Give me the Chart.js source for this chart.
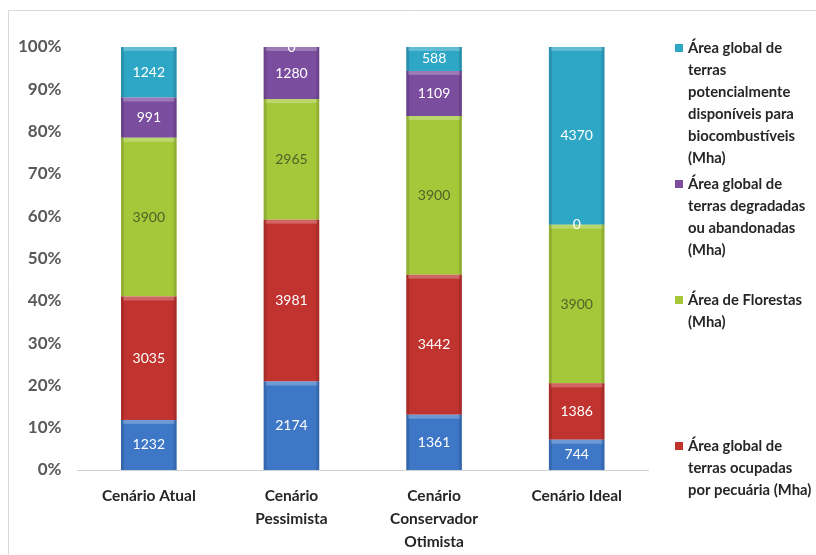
<!DOCTYPE html>
<html>
<head>
<meta charset="utf-8">
<script src="https://cdn.jsdelivr.net/npm/chart.js@4/dist/chart.umd.min.js"></script>
<style>
  html, body { margin: 0; padding: 0; background: #fff; }
  #wrap { width: 816px; height: 555px; position: relative; }
</style>
</head>
<body>
<div id="wrap"><canvas id="c" width="816" height="555"></canvas></div>
<script>
var categories = [['Cenário Atual'], ['Cenário', 'Pessimista'], ['Cenário', 'Conservador', 'Otimista'], ['Cenário Ideal']];
var pecuaria2 = [1232, 2174, 1361, 744];      // bottom blue series (legend entry cut off)
var pecuaria = [3035, 3981, 3442, 1386];
var florestas = [3900, 2965, 3900, 3900];
var degradadas = [991, 1280, 1109, 0];
var biocomb = [1242, 0, 588, 4370];
var yTicks = [0, 10, 20, 30, 40, 50, 60, 70, 80, 90, 100];

var legendLines = [
    ['Área global de', 'terras', 'potencialmente', 'disponíveis para', 'biocombustíveis', '(Mha)'],
    ['Área global de', 'terras degradadas', 'ou abandonadas', '(Mha)'],
    ['Área de Florestas', '(Mha)'],
    ['Área global de', 'terras ocupadas', 'por pecuária (Mha)']
];

var colors = {
    blue: '#3d77c6',
    red: '#c1332f',
    green: '#a5c83a',
    purple: '#7b4d9f',
    teal: '#2ea6c6'
};

var raw = [pecuaria2, pecuaria, florestas, degradadas, biocomb];
var totals = categories.map(function(c, i) {
    var s = 0;
    for (var k = 0; k < raw.length; k++) s += raw[k][i];
    return s;
});
function pct(arr) {
    return arr.map(function(v, i) { return v / totals[i] * 100; });
}

var datasets = [
    { label: 'Área global (Mha)', raw: pecuaria2, data: pct(pecuaria2), backgroundColor: colors.blue, labelColor: '#ffffff' },
    { label: legendLines[3].join(' '), raw: pecuaria, data: pct(pecuaria), backgroundColor: colors.red, labelColor: '#ffffff' },
    { label: legendLines[2].join(' '), raw: florestas, data: pct(florestas), backgroundColor: colors.green, labelColor: '#4f6228' },
    { label: legendLines[1].join(' '), raw: degradadas, data: pct(degradadas), backgroundColor: colors.purple, labelColor: '#ffffff' },
    { label: legendLines[0].join(' '), raw: biocomb, data: pct(biocomb), backgroundColor: colors.teal, labelColor: '#ffffff' }
];
datasets.forEach(function(d) {
    d.borderWidth = 0;
    d.categoryPercentage = 1;
    d.barPercentage = 0.39;
});

// soft bevel on each segment + value labels
var valueLabels = {
    id: 'valueLabels',
    afterDatasetsDraw: function(chart) {
        var ctx = chart.ctx;
        ctx.save();
        chart.data.datasets.forEach(function(ds, di) {
            var meta = chart.getDatasetMeta(di);
            meta.data.forEach(function(bar) {
                var h = bar.base - bar.y;
                if (h < 2) return;
                var l = bar.x - bar.width / 2;
                ctx.fillStyle = 'rgba(255,255,255,0.25)';
                ctx.fillRect(l + 2, bar.y, bar.width - 4, Math.min(4, h));
                ctx.fillStyle = 'rgba(0,0,0,0.12)';
                ctx.fillRect(l, bar.y, 3, h);
                ctx.fillRect(l + bar.width - 3, bar.y, 3, h);
            });
        });
        ctx.font = '14px Lato, "Open Sans", sans-serif';
        ctx.textAlign = 'center';
        ctx.textBaseline = 'middle';
        chart.data.datasets.forEach(function(ds, di) {
            var meta = chart.getDatasetMeta(di);
            meta.data.forEach(function(bar, i) {
                var y = (bar.y + bar.base) / 2;
                ctx.fillStyle = ds.labelColor;
                ctx.fillText(String(ds.raw[i]), bar.x, y);
            });
        });
        ctx.restore();
    }
};

var sideLegend = {
    id: 'sideLegend',
    afterDraw: function(chart) {
        var ctx = chart.ctx;
        var starts = [48, 184, 300, 446];
        var swatch = [colors.teal, colors.purple, colors.green, colors.red];
        ctx.save();
        ctx.font = 'bold 14.8px Lato, "Open Sans", sans-serif';
        ctx.textBaseline = 'middle';
        ctx.textAlign = 'left';
        for (var i = 0; i < legendLines.length; i++) {
            ctx.fillStyle = swatch[i];
            ctx.fillRect(675, starts[i] - 4, 8, 8);
            ctx.fillStyle = '#262626';
            for (var j = 0; j < legendLines[i].length; j++) {
                ctx.fillText(legendLines[i][j], 688, starts[i] + j * 22);
            }
        }
        // frame
        ctx.strokeStyle = '#d9d9d9';
        ctx.lineWidth = 1;
        ctx.beginPath();
        ctx.moveTo(8.5, 555);
        ctx.lineTo(8.5, 10.5);
        ctx.lineTo(816, 10.5);
        ctx.stroke();
        ctx.restore();
    }
};

new Chart(document.getElementById('c'), {
    type: 'bar',
    data: { labels: categories, datasets: datasets },
    plugins: [valueLabels, sideLegend],
    options: {
        responsive: false,
        animation: false,
        layout: { padding: { top: 47, right: 168, left: 2, bottom: 0 } },
        plugins: {
            legend: { display: false },
            tooltip: { enabled: false }
        },
        scales: {
            x: {
                stacked: true,
                afterFit: function(axis) { axis.height = 85; },
                grid: { display: false, drawTicks: false },
                border: { display: true, color: '#d0d0d0' },
                ticks: {
                    color: '#262626',
                    font: { family: 'Lato, "Open Sans", sans-serif', size: 15.5, weight: 'bold', lineHeight: 1.5 },
                    padding: 14,
                    maxRotation: 0
                }
            },
            y: {
                stacked: true,
                min: 0,
                max: 100,
                afterBuildTicks: function(axis) {
                    axis.ticks = yTicks.map(function(v) { return { value: v }; });
                },
                grid: { display: false, drawTicks: false },
                border: { display: false },
                ticks: {
                    color: '#595959',
                    font: { family: 'Lato, "Open Sans", sans-serif', size: 17, weight: 'bold' },
                    padding: 16,
                    callback: function(v) { return v + '%'; }
                }
            }
        }
    }
});
</script>
</body>
</html>
